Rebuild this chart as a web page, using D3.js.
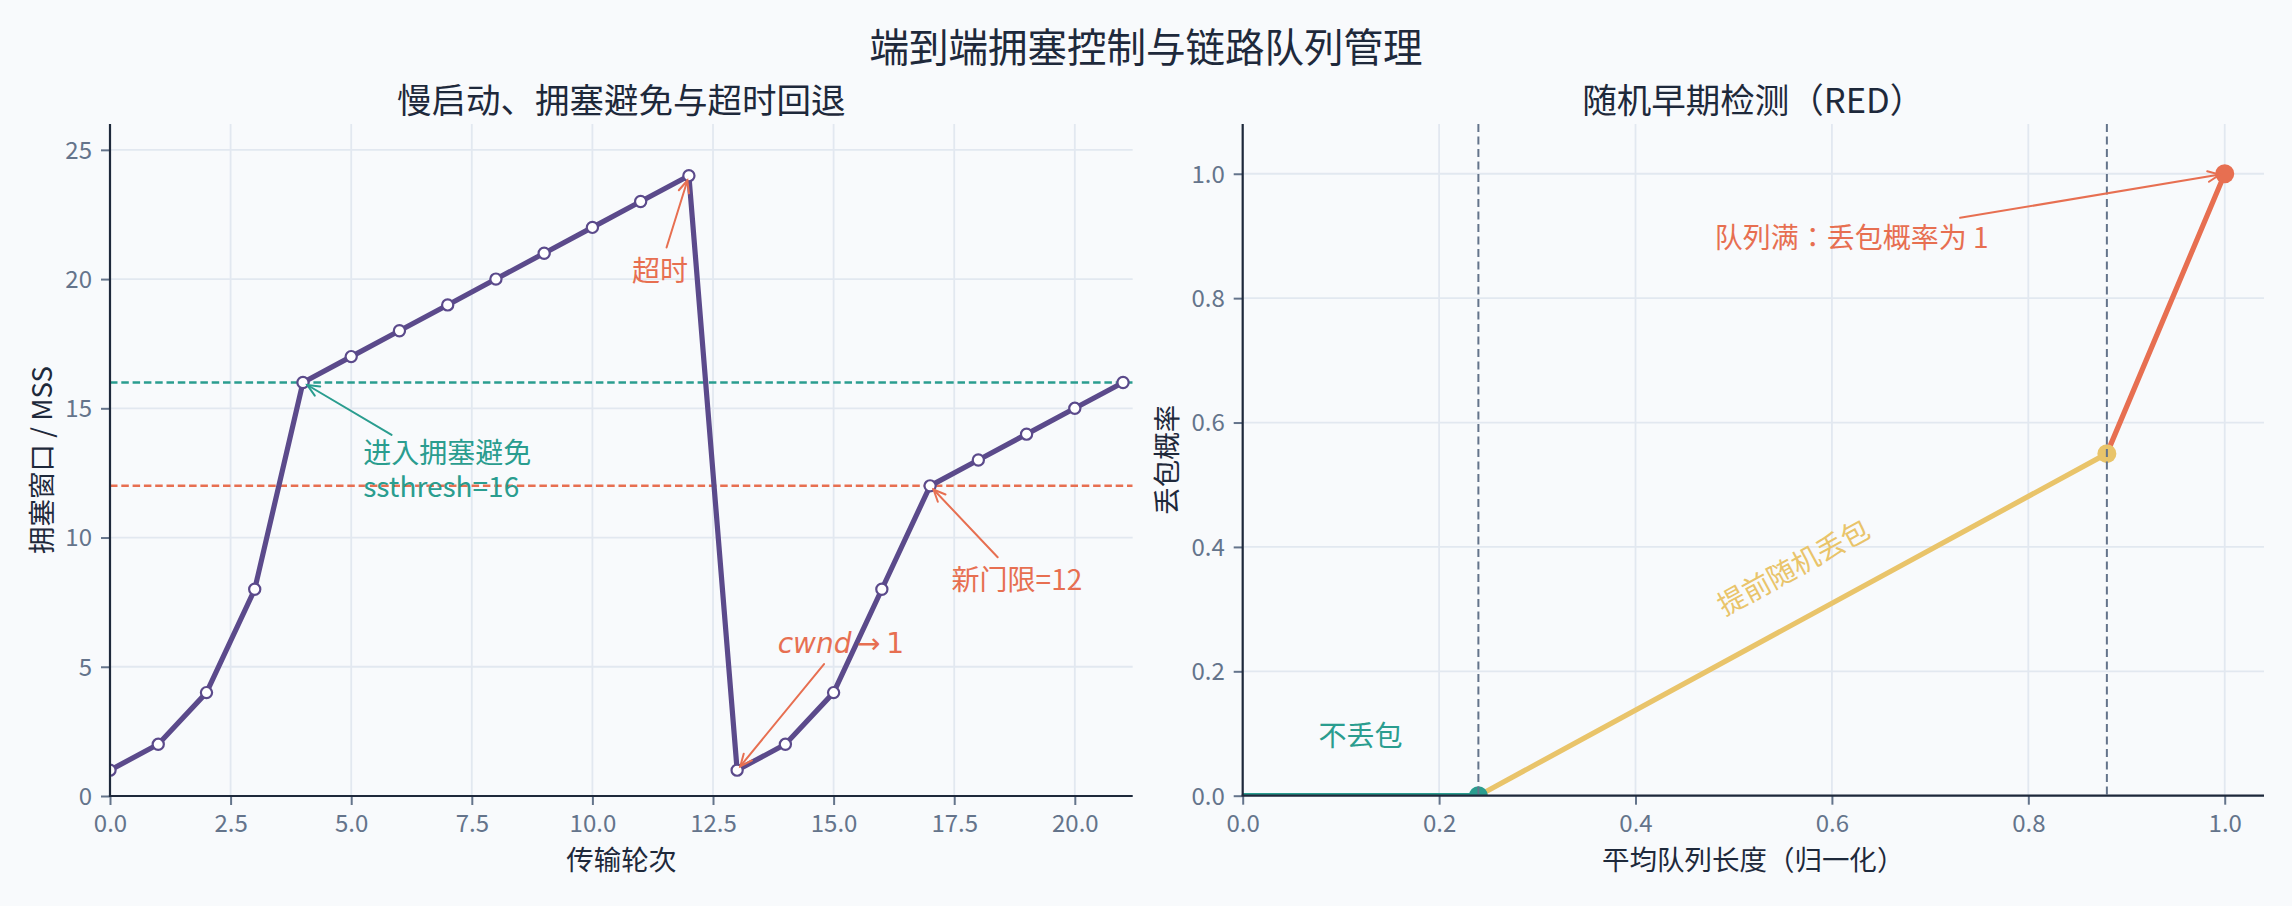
<!DOCTYPE html>
<html>
<head>
<meta charset="utf-8">
<script src="https://cdn.jsdelivr.net/npm/d3@7"></script>
<style>
  html, body { margin: 0; padding: 0; background: #f8fafc; }
  svg { display: block; font-family: "Noto Sans CJK KR", "Noto Sans CJK JP", "Noto Sans", sans-serif; }
</style>
</head>
<body>
<div id="chart"></div>
<script>
// ---- data: TCP congestion window ----
const rounds = d3.range(0, 22);
const cwnd = [1, 2, 4, 8, 16, 17, 18, 19, 20, 21, 22, 23, 24, 1, 2, 4, 8, 12, 13, 14, 15, 16];
const ssthreshLines = [16, 12];
const tcpTicksX = [0, 2.5, 5, 7.5, 10, 12.5, 15, 17.5, 20];
const tcpTicksY = [0, 5, 10, 15, 20, 25];
const tcpNotes = [
  { lines: ["超时"], at: [11.4, 20.4], to: [12, 24] },
  { lines: ["进入拥塞避免", "ssthresh=16"], at: [5.25, 12.7], to: [4, 16] },
  { lines: ["cwnd→1"], at: [15.15, 5.9], to: [13, 1] },
  { lines: ["新门限=12"], at: [18.8, 8.45], to: [17, 12] }
];

// ---- data: RED drop probability ----
const minTh = 0.24, maxTh = 0.88, maxP = 0.55;
const redSegments = [
  [[0, 0], [minTh, 0]],
  [[minTh, 0], [maxTh, maxP]],
  [[maxTh, maxP], [1, 1]]
];
const redDots = [[minTh, 0], [maxTh, maxP], [1, 1]];
const redTicks = [0, 0.2, 0.4, 0.6, 0.8, 1.0];
const redNotes = [
  { lines: ["队列满：丢包概率为 1"], at: [0.62, 0.9], to: [1, 1] }
];
const redLabels = [
  { text: "不丢包", at: [0.12, 0.1] },
  { text: "提前随机丢包", at: [0.56, 0.37] }
];

// ---- styling ----
const W = 2292, H = 906;
const BG = "#f8fafc", GRID = "#e2e8f0", INK = "#1e293b", MUTED = "#64748b";
const PURPLE = "#5b4a8b", TEAL = "#2a9d8f", ORANGE = "#e76f51", YELLOW = "#e9c46a";
const segColors = [TEAL, YELLOW, ORANGE];
const FONT = "'Noto Sans CJK KR', 'Noto Sans CJK JP', sans-serif";

const svg = d3.select("#chart").append("svg")
  .attr("width", W).attr("height", H);
svg.append("rect").attr("width", W).attr("height", H).attr("fill", BG);

svg.append("text")
  .attr("x", W / 2).attr("y", 44)
  .attr("text-anchor", "middle").attr("dominant-baseline", "central")
  .attr("font-size", 39.5).attr("fill", INK)
  .text("端到端拥塞控制与链路队列管理");

// build one axes panel
function makePanel(id, box, xDomain, yDomain, xTicks, yTicks, xFmt, yFmt, title, xLabel, yLabel, yLabelX) {
  const x = d3.scaleLinear().domain(xDomain).range([box.left, box.right]);
  const y = d3.scaleLinear().domain(yDomain).range([box.bottom, box.top]);
  const g = svg.append("g");

  g.append("defs").append("clipPath").attr("id", id)
    .append("rect")
    .attr("x", box.left).attr("y", box.top)
    .attr("width", box.right - box.left).attr("height", box.bottom - box.top);

  // grid
  g.append("g").selectAll("line").data(xTicks).join("line")
    .attr("x1", d => x(d)).attr("x2", d => x(d))
    .attr("y1", box.top).attr("y2", box.bottom)
    .attr("stroke", GRID).attr("stroke-width", 1.8);
  g.append("g").selectAll("line").data(yTicks).join("line")
    .attr("y1", d => y(d)).attr("y2", d => y(d))
    .attr("x1", box.left).attr("x2", box.right)
    .attr("stroke", GRID).attr("stroke-width", 1.8);

  // axes (spines drawn later, on top of data)
  const xAxis = g.append("g").attr("transform", `translate(0,${box.bottom})`)
    .call(d3.axisBottom(x).tickValues(xTicks).tickFormat(xFmt).tickSize(9));
  const yAxis = g.append("g").attr("transform", `translate(${box.left},0)`)
    .call(d3.axisLeft(y).tickValues(yTicks).tickFormat(yFmt).tickSize(9));
  [xAxis, yAxis].forEach(a => {
    a.select(".domain").remove();
    a.selectAll(".tick line").attr("stroke", MUTED).attr("stroke-width", 2);
    a.selectAll(".tick text")
      .attr("fill", MUTED).attr("font-size", 24)
      .attr("font-family", FONT);
  });
  xAxis.selectAll(".tick text").attr("y", 28).attr("dy", "0.35em");
  yAxis.selectAll(".tick text").attr("x", -18).attr("dy", "0.35em");

  g.append("text")
    .attr("x", (box.left + box.right) / 2).attr("y", 97.5)
    .attr("text-anchor", "middle").attr("dominant-baseline", "central")
    .attr("font-size", 34.5).attr("fill", INK).text(title);
  g.append("text")
    .attr("x", (box.left + box.right) / 2).attr("y", 858)
    .attr("text-anchor", "middle").attr("dominant-baseline", "central")
    .attr("font-size", 27.5).attr("fill", INK).text(xLabel);
  g.append("text")
    .attr("transform", `translate(${yLabelX},${(box.top + box.bottom) / 2}) rotate(-90)`)
    .attr("text-anchor", "middle").attr("dominant-baseline", "central")
    .attr("font-size", 27.5).attr("fill", INK).text(yLabel);

  const data = g.append("g").attr("clip-path", `url(#${id})`);
  return { x, y, g, data, box };
}

function drawSpines(p) {
  const b = p.box;
  p.g.append("line").attr("x1", b.left).attr("x2", b.left).attr("y1", b.top).attr("y2", b.bottom)
    .attr("stroke", INK).attr("stroke-width", 2.2);
  p.g.append("line").attr("x1", b.left - 1.1).attr("x2", b.right).attr("y1", b.bottom).attr("y2", b.bottom)
    .attr("stroke", INK).attr("stroke-width", 2.2);
}

// annotation: text + "->" arrow from text box toward target
function annotate(p, note, color, anchor) {
  const fs = 28, lh = 33.5;
  const cx0 = p.x(note.at[0]), cy = p.y(note.at[1]);
  const t = p.g.append("text")
    .attr("fill", color).attr("font-size", fs)
    .attr("text-anchor", anchor || "middle");
  note.lines.forEach((ln, i) => {
    const yy = cy + (i - (note.lines.length - 1) / 2) * lh;
    if (ln.startsWith("cwnd")) {
      const sp = t.append("tspan").attr("x", cx0).attr("y", yy).attr("dominant-baseline", "central")
        .attr("font-family", "'DejaVu Sans', sans-serif");
      sp.append("tspan").attr("font-style", "italic").text("cwnd");
      t.append("tspan").attr("font-family", "'DejaVu Sans', sans-serif")
        .attr("dominant-baseline", "central").text("\u2009→\u20091");
    } else {
      t.append("tspan").attr("x", cx0).attr("y", yy)
        .attr("dominant-baseline", "central").text(ln);
    }
  });
  const bb = t.node().getBBox();
  const cx = bb.x + bb.width / 2;
  const hw = bb.width / 2 + 4, hh = note.lines.length * fs * 0.48 + 4;
  const tx = p.x(note.to[0]), ty = p.y(note.to[1]);
  let dx = tx - cx, dy = ty - cy;
  const len = Math.hypot(dx, dy);
  dx /= len; dy /= len;
  const tEdge = Math.min(Math.abs(dx) > 1e-6 ? hw / Math.abs(dx) : 1e9,
                         Math.abs(dy) > 1e-6 ? hh / Math.abs(dy) : 1e9) + 4;
  const sx = cx + dx * tEdge, sy = cy + dy * tEdge;
  const ex = tx - dx * 5, ey = ty - dy * 5;
  const ang = Math.atan2(ey - sy, ex - sx);
  const hl = 13, hwid = 0.42;
  const a = p.g.append("g").attr("stroke", color).attr("stroke-width", 2).attr("fill", "none")
    .attr("stroke-linecap", "round");
  a.append("line").attr("x1", sx).attr("y1", sy).attr("x2", ex).attr("y2", ey);
  a.append("path").attr("d",
    `M${ex - hl * Math.cos(ang - hwid)},${ey - hl * Math.sin(ang - hwid)}L${ex},${ey}` +
    `L${ex - hl * Math.cos(ang + hwid)},${ey - hl * Math.sin(ang + hwid)}`);
}

// ---------- left panel: TCP ----------
const tcp = makePanel("clipTcp", { left: 110, right: 1132.7, top: 124, bottom: 796 },
  [0, 21.2], [0, 26], tcpTicksX, tcpTicksY, d3.format(".1f"), d3.format("d"),
  "慢启动、拥塞避免与超时回退", "传输轮次", "拥塞窗口 / MSS", 39.5);

tcp.data.selectAll("line.th").data(ssthreshLines).join("line")
  .attr("class", "th")
  .attr("x1", tcp.box.left).attr("x2", tcp.box.right)
  .attr("y1", d => tcp.y(d)).attr("y2", d => tcp.y(d))
  .attr("stroke", (d, i) => i === 0 ? TEAL : ORANGE)
  .attr("stroke-width", 2.5).attr("stroke-dasharray", "7.5,3.8");

const tcpPts = rounds.map((r, i) => [r, cwnd[i]]);
tcp.data.append("path").datum(tcpPts)
  .attr("d", d3.line().x(d => tcp.x(d[0])).y(d => tcp.y(d[1])))
  .attr("fill", "none").attr("stroke", PURPLE).attr("stroke-width", 5.2)
  .attr("stroke-linejoin", "round");
tcp.data.selectAll("circle").data(tcpPts).join("circle")
  .attr("cx", d => tcp.x(d[0])).attr("cy", d => tcp.y(d[1])).attr("r", 5.6)
  .attr("fill", "#ffffff").attr("stroke", PURPLE).attr("stroke-width", 2.2);
drawSpines(tcp);

annotate(tcp, tcpNotes[0], ORANGE);
annotate(tcp, tcpNotes[1], TEAL, "start");
annotate(tcp, tcpNotes[2], ORANGE);
annotate(tcp, tcpNotes[3], ORANGE);

// ---------- right panel: RED ----------
const red = makePanel("clipRed", { left: 1242.7, right: 2264, top: 124, bottom: 795.7 },
  [0, 1.04], [0, 1.08], redTicks, redTicks, d3.format(".1f"), d3.format(".1f"),
  "随机早期检测（RED）", "平均队列长度（归一化）", "丢包概率", 1165);

red.data.selectAll("line.seg").data(redSegments).join("line")
  .attr("class", "seg")
  .attr("x1", d => red.x(d[0][0])).attr("y1", d => red.y(d[0][1]))
  .attr("x2", d => red.x(d[1][0])).attr("y2", d => red.y(d[1][1]))
  .attr("stroke", (d, i) => segColors[i]).attr("stroke-width", 5.2)
  .attr("stroke-linecap", "round");
red.data.selectAll("circle").data(redDots).join("circle")
  .attr("cx", d => red.x(d[0])).attr("cy", d => red.y(d[1])).attr("r", 9.5)
  .attr("fill", (d, i) => segColors[i]);
red.data.selectAll("line.th").data([minTh, maxTh]).join("line")
  .attr("class", "th")
  .attr("x1", d => red.x(d)).attr("x2", d => red.x(d))
  .attr("y1", red.box.top).attr("y2", red.box.bottom)
  .attr("stroke", MUTED).attr("stroke-width", 2).attr("stroke-dasharray", "8,4.5");
drawSpines(red);

annotate(red, redNotes[0], ORANGE);

red.g.append("text")
  .attr("x", red.x(redLabels[0].at[0])).attr("y", red.y(redLabels[0].at[1]))
  .attr("text-anchor", "middle").attr("dominant-baseline", "central")
  .attr("font-size", 28).attr("fill", TEAL).text(redLabels[0].text);

const slopeAngle = Math.atan2(red.y(maxP) - red.y(0), red.x(maxTh) - red.x(minTh)) * 180 / Math.PI;
red.g.append("text")
  .attr("transform", `translate(${red.x(redLabels[1].at[0])},${red.y(redLabels[1].at[1])}) rotate(${slopeAngle})`)
  .attr("text-anchor", "middle").attr("dominant-baseline", "central")
  .attr("font-size", 28).attr("fill", YELLOW).text(redLabels[1].text);
</script>
</body>
</html>
